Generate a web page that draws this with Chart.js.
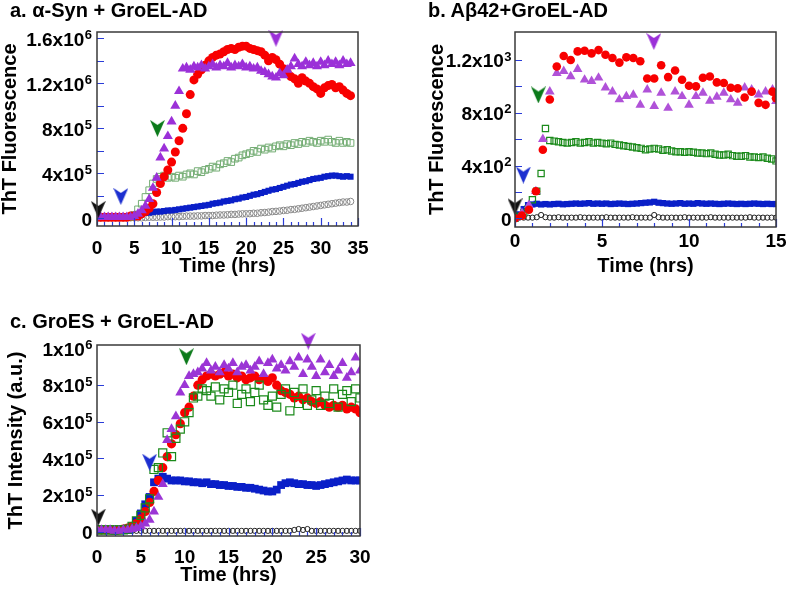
<!DOCTYPE html>
<html lang="en">
<head>
<meta charset="UTF-8">
<title>ThT kinetics</title>
<script src="https://cdn.jsdelivr.net/npm/chart.js@4"></script>
<style>
  body { margin: 0; background: #fff; }
  #wrap { position: relative; width: 787px; height: 591px; }
  canvas { position: absolute; }
  .ttl { position: absolute; font-family: "Liberation Sans", Arial, sans-serif; font-weight: bold;
         font-size: 20px; line-height: 20px; white-space: nowrap; color: #000; }
</style>
</head>
<body>
<div id="wrap">
  <canvas id="chartA" width="393" height="280" style="left:0;top:0"></canvas>
  <canvas id="chartB" width="394" height="280" style="left:393px;top:0"></canvas>
  <canvas id="chartC" width="393" height="301" style="left:0;top:290px"></canvas>
  <div class="ttl" style="left:10px;top:0">a. α-Syn + GroEL-AD</div>
  <div class="ttl" style="left:428px;top:0">b. Aβ42+GroEL-AD</div>
  <div class="ttl" style="left:10px;top:311px">c. GroES + GroEL-AD</div>
</div>
<script>
const FONT = '"Liberation Sans", Arial, sans-serif';

// ---- panel a: alpha-Syn, ThT in units of 1e5 ----
const timeA = [0,0.5,1,1.5,2,2.5,3,3.5,4,4.5,5,5.5,6,6.5,7,7.5,8,8.5,9,9.5,10,10.5,11,11.5,12,12.5,13,13.5,14,14.5,
  15,15.5,16,16.5,17,17.5,18,18.5,19,19.5,20,20.5,21,21.5,22,22.5,23,23.5,24,24.5,25,25.5,26,26.5,27,27.5,28,28.5,29,29.5,
  30,30.5,31,31.5,32,32.5,33,33.5,34];
const redA = [0.1,0.1,0.1,0.1,0.1,0.1,0.1,0.1,0.1,0.2,0.2,
  0.2,0.4,0.6,0.9,1.3,2.3,3.1,3.7,4.3,5.0,
  5.9,6.9,8.0,9.3,11.0,12.3,12.8,13.2,13.6,14.0,
  14.3,14.5,14.6,14.8,15.0,15.1,15.0,15.2,15.3,15.3,
  15.1,15.0,14.9,14.8,14.5,14.0,14.3,14.1,13.7,13.3,
  13.0,12.6,12.4,12.0,12.5,12.2,12.0,11.7,11.5,11.1,
  11.6,11.8,11.9,11.6,11.7,11.4,11.1,10.9];
const purpleA = [0.1,0.1,0.1,0.1,0.1,0.1,0.1,0.1,0.1,0.1,0.2,
  0.4,0.7,1.1,1.7,2.7,3.6,5.4,6.2,7.3,8.6,
  10.0,11.3,13.3,13.4,13.2,13.5,13.4,13.6,13.3,13.5,
  13.7,13.4,13.6,13.5,13.8,13.4,13.6,13.5,13.7,13.4,
  13.5,13.3,13.4,13.1,13.0,12.8,12.6,12.5,12.9,12.7,
  13.2,13.5,14.2,13.7,13.5,13.9,13.6,13.8,13.5,13.9,
  13.6,14.0,13.7,13.9,13.6,14.0,13.7,13.8];
const greenA = [0.1,0.1,0.1,0.1,0.1,0.1,0.1,0.1,0.1,0.1,0.3,
  0.8,1.3,1.9,2.5,3.1,3.5,3.7,3.8,3.6,3.7,
  3.6,3.8,3.7,3.9,4.0,3.9,4.2,4.1,4.3,4.4,
  4.6,4.5,4.8,4.9,5.1,5.0,5.3,5.4,5.6,5.7,
  5.8,6.0,5.9,6.2,6.1,6.3,6.2,6.4,6.5,6.4,
  6.6,6.5,6.7,6.6,6.8,6.7,6.9,6.8,6.7,6.9,
  6.8,7.0,6.8,6.7,6.9,6.7,6.8,6.7];
const blueA = [0.1,0.1,0.1,0.1,0.1,0.1,0.1,0.1,0.15,0.2,0.3,
  0.4,0.45,0.5,0.5,0.55,0.6,0.6,0.65,0.7,0.7,
  0.75,0.8,0.85,0.9,0.95,1.0,1.05,1.1,1.15,1.2,
  1.3,1.35,1.4,1.5,1.55,1.6,1.7,1.75,1.85,1.9,
  2.0,2.1,2.15,2.25,2.35,2.45,2.55,2.6,2.7,2.8,
  2.9,3.0,3.05,3.15,3.25,3.3,3.4,3.5,3.55,3.6,
  3.7,3.75,3.8,3.8,3.75,3.7,3.75,3.7];
const grayA = [0.05,0.05,0.05,0.05,0.05,0.05,0.05,0.05,0.05,0.05,0.05,
  0.05,0.05,0.08,0.1,0.1,0.1,0.12,0.12,0.15,0.15,
  0.15,0.15,0.18,0.2,0.2,0.2,0.22,0.22,0.25,0.25,
  0.25,0.28,0.3,0.3,0.32,0.35,0.35,0.38,0.4,0.4,
  0.42,0.45,0.45,0.5,0.52,0.55,0.6,0.62,0.65,0.7,
  0.72,0.78,0.8,0.85,0.9,0.95,1.0,1.05,1.1,1.15,
  1.2,1.25,1.3,1.35,1.4,1.45,1.45,1.5];
const arrowTA = [0.17, 3.2, 8.1, 24.0];
const arrowVA = [0.8, 1.95, 8.0, 16.0];
const yTicksA = [0, 4, 8, 12, 16];
const yLabelsA = ['0', '4x10^5', '8x10^5', '1.2x10^6', '1.6x10^6'];

// ---- panel b: Abeta42, raw ThT ----
const timeB = [0,0.25,0.5,0.75,1,1.25,1.5,1.75,2,2.25,2.5,2.75,3,3.25,3.5,3.75,4,4.25,4.5,4.75,
  5,5.25,5.5,5.75,6,6.25,6.5,6.75,7,7.25,7.5,7.75,8,8.25,8.5,8.75,9,9.25,9.5,9.75,
  10,10.25,10.5,10.75,11,11.25,11.5,11.75,12,12.25,12.5,12.75,13,13.25,13.5,13.75,14,14.25,14.5,14.75,15];
const timeB2 = [0,0.4,0.8,1.2,1.6,2,2.4,2.8,3.2,3.6,4,4.4,4.8,5.2,5.6,6,6.4,6.8,7.2,7.6,
  8,8.4,8.8,9.2,9.6,10,10.4,10.8,11.2,11.6,12,12.4,12.8,13.2,13.6,14,14.4,14.8,15];
const redB = [0,20,65,205,520,900,1150,1230,1200,1265,1270,1250,1275,1240,1215,1180,1220,1215,1190,1060,
  1060,1160,1070,1120,1050,1005,1000,1065,1075,1030,1025,990,985,915,960,875,860,960,910];
const purpleB = [0,40,100,205,600,960,1100,1115,1075,1130,1050,1040,1065,990,960,900,925,935,860,975,
  850,950,836,960,925,860,925,950,890,920,950,900,875,990,975,937,960,975,887];
const greenB = [0,15,40,70, 140,205,340,680, 590,585,580,575, 570,575,580,570, 575,580,570,575,
  570,565,570,560, 555,550,545,540, 535,530,520,525, 530,525,515,520, 510,505,505,500,
  505,500,495,495, 490,495,485,480, 480,485,475,470, 470,475,465,465, 460,465,455,450, 435];
const blueB = [0,30,70,100, 105,110,105,108, 105,108,110,106, 108,110,112,110, 112,115,110,112,
  110,112,108,110, 112,110,108,110, 112,115,118,120, 125,118,115,112, 110,112,115,110,
  112,110,115,112, 110,112,110,108, 110,112,110,108, 110,108,110,112, 110,108,110,108, 108];
const blackB = [0,5,5,5, 5,8,25,8, 5,5,8,5, 5,5,5,8, 5,5,5,5, 5,8,5,5, 5,5,5,8, 5,5,5,5,
  25,8,5,5, 5,5,5,8, 5,5,5,5, 5,8,5,5, 5,5,5,5, 5,5,8,5, 5,5,5,5, 5];
const arrowTB = [0.0, 0.48, 1.34, 7.98];
const arrowVB = [88, 328, 935, 1340];
const yTicksB = [0, 400, 800, 1200];
const yLabelsB = ['0', '4x10^2', '8x10^2', '1.2x10^3'];

// ---- panel c: GroES, ThT in units of 1e5 ----
const timeC = [0,0.5,1,1.5,2,2.5,3,3.5,4,4.5,5,5.5,6,6.5,7,7.5,8,8.5,9,9.5,10,10.5,11,11.5,12,12.5,13,13.5,14,14.5,
  15,15.5,16,16.5,17,17.5,18,18.5,19,19.5,20,20.5,21,21.5,22,22.5,23,23.5,24,24.5,25,25.5,26,26.5,27,27.5,28,28.5,29,29.5,30];
const redC = [0.1,0.1,0.1,0.1,0.1,0.1,0.15,0.2,0.3,0.45,
  0.7,1.1,1.6,2.2,2.8,3.5,4.1,4.8,5.3,5.9,
  6.5,6.8,7.4,8.0,8.3,8.5,8.6,8.5,8.6,8.7,
  8.5,8.6,8.4,8.5,8.3,8.4,8.5,8.3,8.4,8.2,
  8.4,8.0,7.7,7.6,7.5,7.3,7.4,7.2,7.3,7.1,
  7.0,7.1,6.9,6.8,6.9,6.8,6.9,6.7,6.8,6.7, 6.5];
const purpleC = [0.1,0.1,0.1,0.1,0.05,0.05,0.1,0.1,0.15,0.2,
  0.3,0.45,0.65,1.1,1.9,2.6,5.0,5.6,6.3,7.6,
  8.0,8.5,8.6,8.7,8.9,9.2,8.8,9.0,8.7,9.1,
  8.9,9.2,8.7,9.0,9.1,8.8,9.0,9.3,8.6,9.2,
  9.4,8.9,9.1,8.8,9.3,9.0,9.5,8.6,9.4,9.0,
  8.5,9.4,8.7,9.1,8.5,8.8,9.2,8.4,8.7,9.5, 8.8];
const greenC = [0.1,0.1,0.1,0.1,0.1,0.1,0.1,0.15,0.3,0.6,
  0.9,1.3,1.8,3.4,3.5,4.3,5.4,4.1,5.1,5.6,
  6.0,6.5,7.3,7.4,7.8,7.7,7.4,7.9,7.2,7.8,
  7.6,8.0,7.0,7.5,7.8,7.1,7.6,8.0,7.2,6.9,
  7.4,6.8,7.5,7.8,6.6,7.6,7.0,7.8,6.9,7.2,
  7.7,6.9,7.4,7.0,7.8,6.8,7.5,7.7,7.1,7.8, 7.3];
const blueC = [0.1,0.1,0.1,0.1,0.05,0.1,0.1,0.1,0.3,0.6,
  1.0,1.5,1.9,2.7,2.9,3.0,2.9,2.8,2.8,2.8,
  2.75,2.75,2.7,2.7,2.65,2.7,2.6,2.6,2.55,2.55,
  2.5,2.5,2.45,2.45,2.4,2.4,2.35,2.3,2.25,2.2,
  2.2,2.3,2.55,2.65,2.7,2.65,2.6,2.6,2.55,2.55,
  2.5,2.55,2.6,2.65,2.7,2.75,2.8,2.85,2.8,2.8, 2.8];
const blackC = [0.05,0.05,0.05,0.05,0.05,0.05,0.05,0.05,0.05,0.05,
  0.05,0.05,0.05,0.05,0.05,0.05,0.05,0.05,0.05,0.05,
  0.05,0.05,0.05,0.05,0.05,0.05,0.05,0.05,0.05,0.05,
  0.05,0.05,0.05,0.05,0.05,0.05,0.05,0.05,0.05,0.05,
  0.05,0.05,0.05,0.05,0.05,0.1,0.15,0.1,0.15,0.05,
  0.05,0.05,0.05,0.05,0.05,0.05,0.05,0.05,0.05,0.05, 0.05];
const arrowTC = [0.15, 6.0, 10.2, 24.1];
const arrowVC = [0.8, 3.8, 9.55, 10.4];
const yTicksC = [0, 2, 4, 6, 8, 10];
const yLabelsC = ['0', '2x10^5', '4x10^5', '6x10^5', '8x10^5', '1x10^6'];

function arrowHead(color) {
  const c = document.createElement('canvas');
  c.width = 15; c.height = 17;
  const g = c.getContext('2d');
  g.fillStyle = color;
  g.beginPath();
  g.moveTo(0, 0); g.lineTo(7.5, 5); g.lineTo(15, 0); g.lineTo(7.5, 17);
  g.closePath(); g.fill();
  return c;
}

// inner blue ticks, frame and y labels with superscripts
const axisDecor = {
  id: 'axisDecor',
  afterDraw(chart, args, o) {
    const {ctx, chartArea: a, scales: {x, y}} = chart;
    ctx.save();
    ctx.strokeStyle = '#2a3cd8';
    ctx.lineWidth = 1.2;
    ctx.beginPath();
    for (let t = 0; t <= x.max; t += 1) {
      const px = Math.round(x.getPixelForValue(t)) + 0.5;
      const len = t % 5 === 0 ? 8 : 4;
      ctx.moveTo(px, a.bottom); ctx.lineTo(px, a.bottom - len);
    }
    for (let v = 0; v <= y.max; v += o.yMinor) {
      const py = Math.round(y.getPixelForValue(v)) + 0.5;
      if (py - a.top < 4) continue;
      ctx.moveTo(a.left, py); ctx.lineTo(a.left + 7, py);
    }
    ctx.stroke();
    ctx.strokeStyle = '#3a3a3a';
    ctx.lineWidth = 1.5;
    ctx.strokeRect(a.left, a.top, a.right - a.left, a.bottom - a.top);

    ctx.fillStyle = '#000';
    ctx.textBaseline = 'middle';
    ctx.textAlign = 'right';
    o.ticks.forEach((v, i) => {
      const [base, sup] = o.labels[i].split('^');
      const py = y.getPixelForValue(v);
      let rx = a.left - o.gap;
      if (sup) {
        ctx.font = 'bold 13px ' + FONT;
        ctx.fillText(sup, rx, py - 3);
        rx -= ctx.measureText(sup).width + 0.5;
      }
      ctx.font = 'bold 19px ' + FONT;
      ctx.fillText(base, rx, py + 2);
    });
    ctx.restore();
  }
};

function makePanel(id, p) {
  const sets = p.series.map(s => ({
    data: s.time.map((t, i) => ({x: t, y: s.values[i]})),
    pointStyle: s.style,
    pointRadius: s.r,
    backgroundColor: s.fill,
    borderColor: s.line,
    borderWidth: s.bw
  }));
  sets.unshift({
    data: p.arrowT.map((t, i) => ({x: t, y: p.arrowV[i]})),
    pointStyle: ['#111111', '#1c2fd0', '#0b7a1a', p.arrowPurple].map(arrowHead),
    clip: false
  });
  return new Chart(document.getElementById(id), {
    type: 'scatter',
    data: {datasets: sets},
    options: {
      responsive: false,
      animation: false,
      devicePixelRatio: 1,
      layout: {padding: p.pad},
      plugins: {
        legend: {display: false},
        tooltip: {enabled: false},
        axisDecor: {ticks: p.yTicks, labels: p.yLabels, yMinor: p.yMinor, gap: p.gap}
      },
      scales: {
        x: {
          type: 'linear', min: 0, max: p.xMax,
          afterFit: s => { s.height = p.xH; },
          grid: {display: false}, border: {display: false},
          ticks: {stepSize: 5, color: '#000', padding: p.xPad, maxRotation: 0,
                  font: {family: FONT, size: 19, weight: 'bold'}},
          title: {display: true, text: 'Time (hrs)', color: '#000',
                  font: {family: FONT, size: 20, weight: 'bold', lineHeight: 1},
                  padding: {top: 0, bottom: p.xTitlePad}}
        },
        y: {
          min: p.yMin, max: p.yMax,
          afterFit: s => { s.width = p.yW; },
          grid: {display: false}, border: {display: false},
          ticks: {display: false},
          title: {display: true, text: p.yTitle, color: '#000',
                  font: {family: FONT, size: 20, weight: 'bold', lineHeight: 1},
                  padding: {top: p.yTitlePad, bottom: 0}}
        }
      }
    },
    plugins: [axisDecor]
  });
}

makePanel('chartA', {
  pad: {top: 32, right: 35, left: 0, bottom: 0}, yW: 97, xH: 54,
  xMax: 35, yMin: -0.68, yMax: 16.56, yMinor: 2, gap: 5, xPad: 3,
  yTicks: yTicksA, yLabels: yLabelsA, yTitle: 'ThT Fluorescence', yTitlePad: 0, xTitlePad: 4,
  arrowT: arrowTA, arrowV: arrowVA, arrowPurple: '#9b30d8',
  series: [
    {time: timeA, values: purpleA, style: 'triangle', r: 5.8, fill: '#9b30d8', line: '#9b30d8', bw: 0},
    {time: timeA, values: redA, style: 'circle', r: 4.5, fill: '#f80000', line: '#f80000', bw: 0},
    {time: timeA, values: greenA, style: 'rect', r: 4.7, fill: 'rgba(0,0,0,0)', line: '#74ad74', bw: 1},
    {time: timeA, values: blueA, style: 'rect', r: 4.3, fill: '#0a1fc8', line: '#0a1fc8', bw: 0},
    {time: timeA, values: grayA, style: 'circle', r: 3.3, fill: 'rgba(0,0,0,0)', line: '#8a8a8a', bw: 1}
  ]
});

makePanel('chartB', {
  pad: {top: 32, right: 11, left: 0, bottom: 0}, yW: 122, xH: 53,
  xMax: 15, yMin: -66, yMax: 1412, yMinor: 200, gap: 3.5, xPad: -5,
  yTicks: yTicksB, yLabels: yLabelsB, yTitle: 'ThT Fluorescence', yTitlePad: 34, xTitlePad: 4,
  arrowT: arrowTB, arrowV: arrowVB, arrowPurple: '#9b30d8',
  series: [
    {time: timeB2, values: redB, style: 'circle', r: 4.3, fill: '#f80000', line: '#f80000', bw: 0},
    {time: timeB2, values: purpleB, style: 'triangle', r: 5.6, fill: '#b052d8', line: '#b052d8', bw: 0},
    {time: timeB, values: greenB, style: 'rect', r: 4.4, fill: 'rgba(0,0,0,0)', line: '#1b8a1b', bw: 1.2},
    {time: timeB, values: blueB, style: 'rect', r: 4.4, fill: '#0a1fc8', line: '#0a1fc8', bw: 0},
    {time: timeB, values: blackB, style: 'circle', r: 2.6, fill: 'rgba(0,0,0,0)', line: '#222', bw: 1}
  ]
});

makePanel('chartC', {
  pad: {top: 55, right: 33, left: 0, bottom: 0}, yW: 97, xH: 55,
  xMax: 30, yMin: -0.23, yMax: 10.19, yMinor: 2, gap: 4.5, xPad: 2,
  yTicks: yTicksC, yLabels: yLabelsC, yTitle: 'ThT Intensity (a.u.)', yTitlePad: 6, xTitlePad: 6,
  arrowT: arrowTC, arrowV: arrowVC, arrowPurple: '#9b30d8',
  series: [
    {time: timeC, values: purpleC, style: 'triangle', r: 5.8, fill: '#9b35d5', line: '#9b35d5', bw: 0},
    {time: timeC, values: greenC, style: 'rect', r: 5.7, fill: 'rgba(0,0,0,0)', line: '#1b8a1b', bw: 1.2},
    {time: timeC, values: redC, style: 'circle', r: 4.6, fill: '#f80000', line: '#f80000', bw: 0},
    {time: timeC, values: blueC, style: 'rect', r: 5.5, fill: '#0a1fc8', line: '#0a1fc8', bw: 0},
    {time: timeC, values: blackC, style: 'circle', r: 2.6, fill: 'rgba(0,0,0,0)', line: '#222', bw: 1}
  ]
});
</script>
</body>
</html>
